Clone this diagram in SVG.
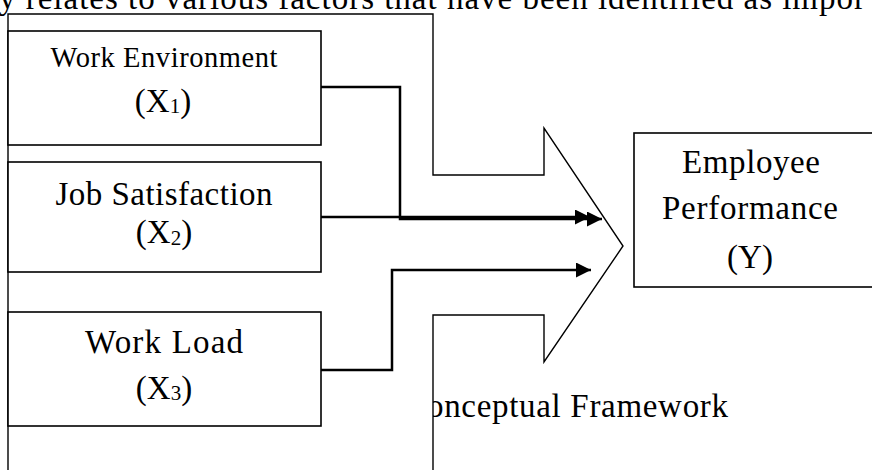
<svg xmlns="http://www.w3.org/2000/svg" width="872" height="470" viewBox="0 0 872 470">
  <style>
    .t { font-family: "Liberation Serif", "Times New Roman", serif; fill: #000; }
    .box { fill: #fff; stroke: #000; stroke-width: 1.6; }
    .big { fill: #fff; stroke: #000; stroke-width: 1.4; stroke-linejoin: miter; }
    .conn { fill: none; stroke: #000; stroke-width: 2.5; }
  </style>
  <defs>
    <marker id="ah" markerUnits="userSpaceOnUse" markerWidth="16" markerHeight="15" refX="15" refY="7.5" orient="auto">
      <path d="M0,0 L15,7.5 L0,15 z" fill="#000"/>
    </marker>
  </defs>
  <rect width="872" height="470" fill="#fff"/>

  <text class="t" x="-1" y="9" font-size="33" textLength="866" lengthAdjust="spacing">y relates to various factors that have been identified as impor</text>
  <text class="t" x="427" y="417" font-size="33" textLength="301" lengthAdjust="spacing">onceptual Framework</text>

  <g id="framework-arrow">
    <polygon class="big" points="8,14 433,14 433,175 544,175 544,128 623,246 544,362 544,315 433,315 433,480 8,480"/>
  </g>

  <g id="work-environment">
    <rect class="box" x="8" y="31" width="313" height="114"/>
    <text class="t" x="164" y="67" font-size="28.5" text-anchor="middle" textLength="227" lengthAdjust="spacing">Work Environment</text>
    <text class="t" x="163" y="112" font-size="33" text-anchor="middle">(X<tspan font-size="21" dy="1">1</tspan><tspan dy="-1">)</tspan></text>
  </g>

  <g id="job-satisfaction">
    <rect class="box" x="8" y="162" width="313" height="110"/>
    <text class="t" x="164" y="205" font-size="33" text-anchor="middle" textLength="217" lengthAdjust="spacing">Job Satisfaction</text>
    <text class="t" x="164" y="243" font-size="33" text-anchor="middle">(X<tspan font-size="21" dy="2">2</tspan><tspan dy="-2">)</tspan></text>
  </g>

  <g id="work-load">
    <rect class="box" x="8" y="312" width="313" height="114"/>
    <text class="t" x="164" y="353" font-size="33" text-anchor="middle" textLength="158" lengthAdjust="spacing">Work Load</text>
    <text class="t" x="164" y="399" font-size="33" text-anchor="middle">(X<tspan font-size="21" dy="1">3</tspan><tspan dy="-1">)</tspan></text>
  </g>

  <g id="connectors">
    <path class="conn" d="M321,87 H400 V219 H602" marker-end="url(#ah)"/>
    <path class="conn" d="M321,217 H590" marker-end="url(#ah)"/>
    <path class="conn" d="M321,370 H392 V270 H591" marker-end="url(#ah)"/>
  </g>

  <g id="employee-performance">
    <rect class="box" x="634" y="133" width="250" height="154"/>
    <text class="t" x="751" y="173" font-size="33" text-anchor="middle" textLength="138" lengthAdjust="spacing">Employee</text>
    <text class="t" x="750" y="219" font-size="33" text-anchor="middle" textLength="176" lengthAdjust="spacing">Performance</text>
    <text class="t" x="750" y="268" font-size="33" text-anchor="middle">(Y)</text>
  </g>
</svg>
